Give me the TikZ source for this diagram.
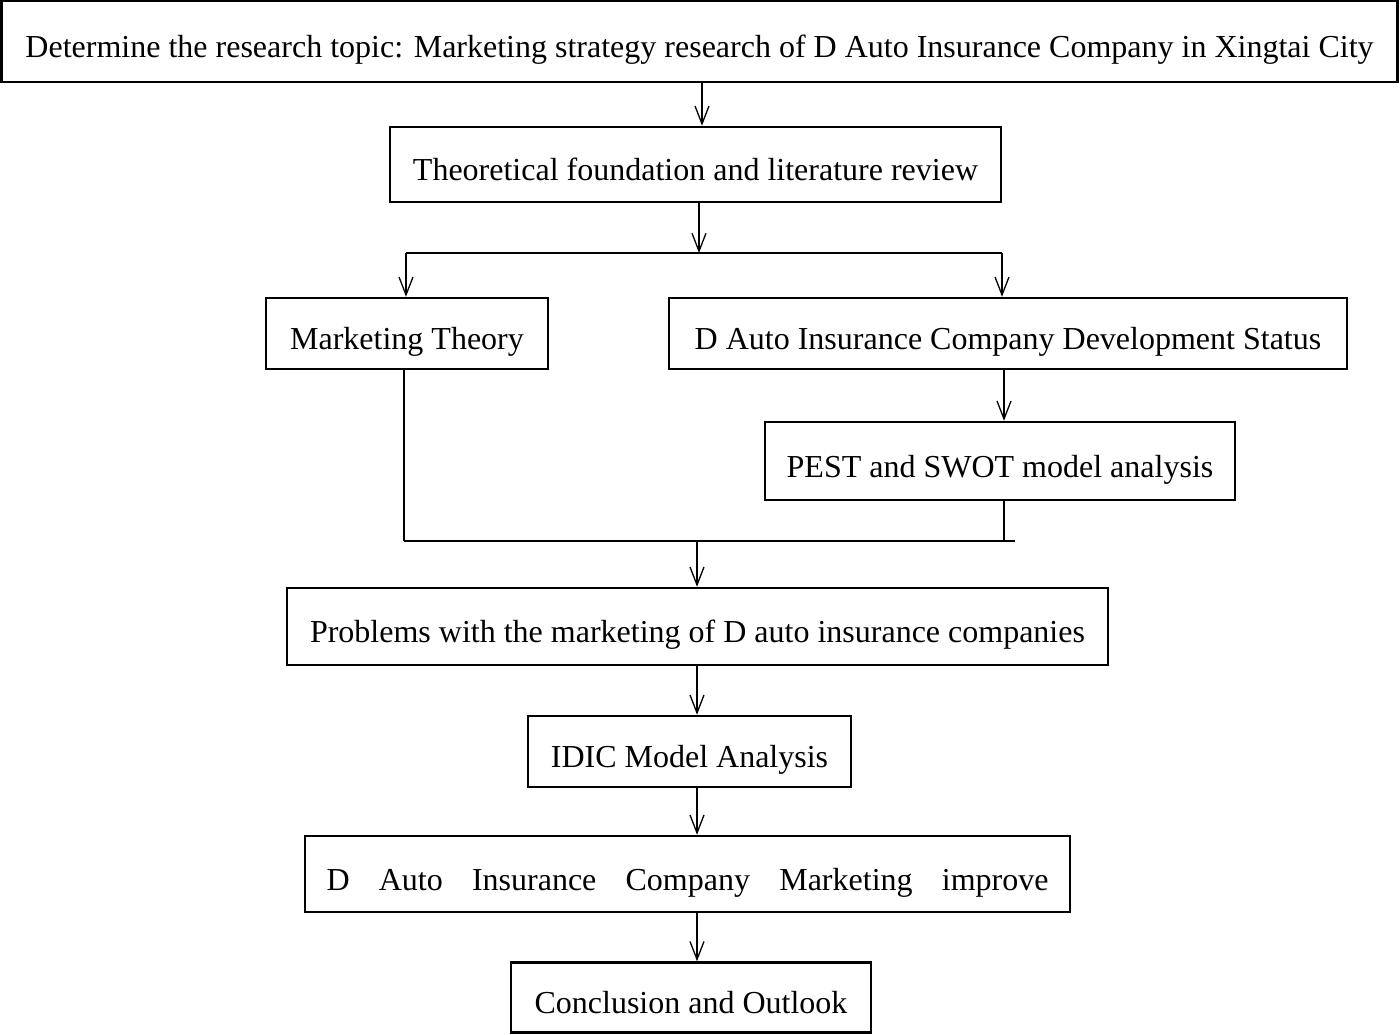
\documentclass[tikz,border=0pt]{standalone}
\usepackage{fontspec}
\setmainfont{Liberation Serif}
\usetikzlibrary{arrows.meta}
\begin{document}
\begin{tikzpicture}[x=1pt,y=-1pt,
  box/.style={draw, line width=2.5pt, rectangle, inner sep=0pt, text height=32pt, text depth=0pt,
    font=\fontsize{32}{38}\selectfont},
  arr/.style={line width=1.3pt, -{Straight Barb[length=18pt,width=14pt,line width=1.3pt]}},
  ln/.style={line width=2.4pt},
  thin/.style={line width=1.8pt}]
\useasboundingbox (0,0) rectangle (1400,1034);
\node[box, minimum width=1396pt, minimum height=81pt] (top) at (699.5,41.5)
  {Determine the research topic: Marketing strategy research of D Auto Insurance Company in Xingtai City};
\node[box, minimum width=611pt, minimum height=75pt] (theo) at (695.5,164.5)
  {Theoretical foundation and literature review};
\node[box, minimum width=282pt, minimum height=71pt] (mt) at (407,333.5) {Marketing Theory};
\node[box, minimum width=678pt, minimum height=71pt] (dev) at (1008,333.5)
  {D Auto Insurance Company Development Status};
\node[box, minimum width=470pt, minimum height=78pt] (pest) at (1000,461)
  {PEST and SWOT model analysis};
\node[box, minimum width=821pt, minimum height=77pt] (prob) at (697.5,626.5)
  {Problems with the marketing of D auto insurance companies};
\node[box, minimum width=323pt, minimum height=71pt] (idic) at (689.5,751.5) {IDIC Model Analysis};
\node[box, minimum width=765pt, minimum height=76pt] (imp) at (687.5,874)
  {\makebox[722pt][s]{D Auto Insurance Company Marketing improve}};
\node[box, minimum width=360pt, minimum height=70pt] (conc) at (691,997.5) {Conclusion and Outlook};
% coordinates
\coordinate (c1) at (702,0);
\coordinate (split) at (699,253);
\coordinate (sl) at (406,253);
\coordinate (sr) at (1002,253);
\coordinate (c4) at (1004,0);
\coordinate (jl) at (404,541);
\coordinate (jr) at (1015,541);
\coordinate (jm) at (697,541);
% connectors
\draw[arr] (top.south -| c1) -- (theo.north -| c1);
\draw[arr] (theo.south -| split) -- (split);
\draw[thin] (sl) -- (sr);
\draw[arr] (sl) -- (sl |- mt.north);
\draw[arr] (sr) -- (sr |- dev.north);
\draw[arr] (dev.south -| c4) -- (pest.north -| c4);
\draw[ln] (mt.south -| jl) -- (jl);
\draw[ln] (pest.south -| c4) -- (c4 |- jl);
\draw[ln] (jl) -- (jr);
\draw[arr] (jm) -- (jm |- prob.north);
\draw[arr] (prob.south -| jm) -- (idic.north -| jm);
\draw[arr] (idic.south -| jm) -- (imp.north -| jm);
\draw[arr] (imp.south -| jm) -- (conc.north -| jm);
\end{tikzpicture}
\end{document}
